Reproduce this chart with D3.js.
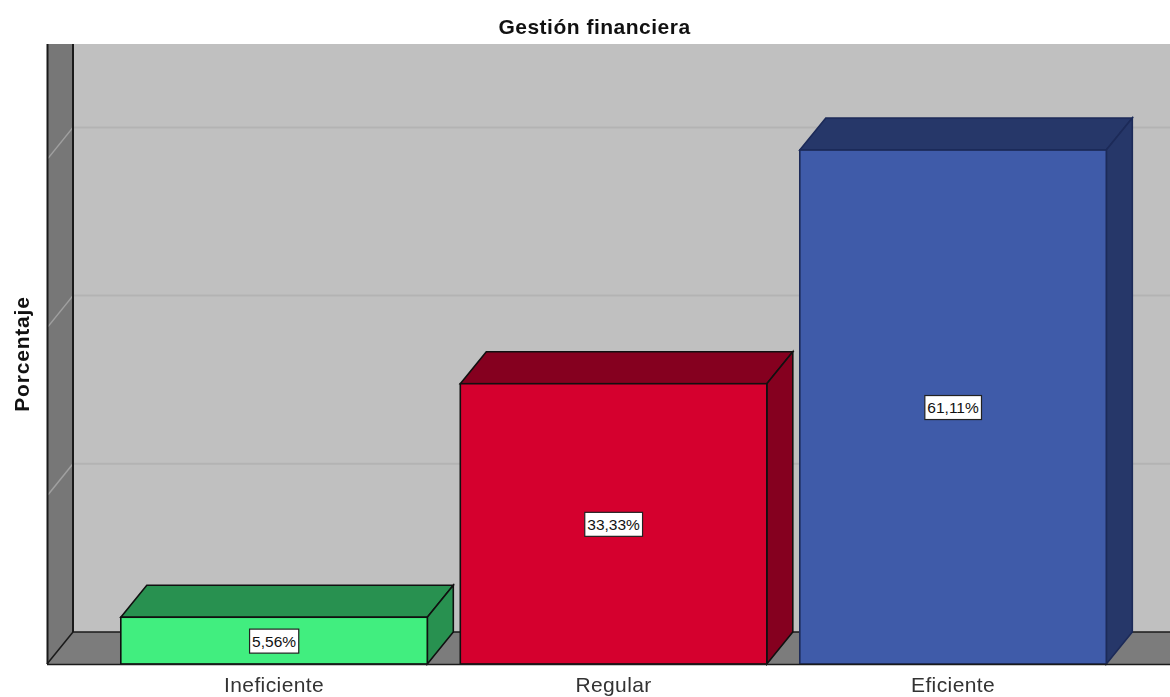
<!DOCTYPE html>
<html>
<head>
<meta charset="utf-8">
<script src="https://cdn.jsdelivr.net/npm/d3@7/dist/d3.min.js"></script>
<style>
html,body{margin:0;padding:0;background:#fff;overflow:hidden}
text{font-family:"Liberation Sans",Arial,sans-serif}
svg{filter:blur(0.4px)}
</style>
</head>
<body>
<script>
const categories = ["Ineficiente", "Regular", "Eficiente"];
const values = [5.56, 33.33, 61.11];
const valueLabels = ["5,56%", "33,33%", "61,11%"];
const gridTicks = [20, 40, 60];
const frontColors = ["#41ee7f", "#d5002e", "#3f5ba9"];
const sideColors = ["#289150", "#85001f", "#263769"];
const edgeColors = ["#101010", "#101010", "#1c2a58"];

const W = 1170, H = 697;
const left = 47, baseY = 664, topY = 44, dx = 26, dy = 32;

const svg = d3.select("body").append("svg").attr("width", W).attr("height", H).style("display", "block");

const y = d3.scaleLinear().domain([0, 70]).range([baseY, baseY - 70 * 8.41]);
const x = d3.scaleBand().domain(categories).range([104.3, 1122.8]).paddingInner(0.0972).paddingOuter(0.0486);

const poly = pts => pts.map(p => p.join(",")).join(" ");

// back wall
svg.append("rect").attr("x", left + dx).attr("y", topY).attr("width", W - left - dx).attr("height", baseY - dy - topY).attr("fill", "#c0c0c0");
// left wall
svg.append("rect").attr("x", left).attr("y", topY).attr("width", dx).attr("height", baseY - topY).attr("fill", "#777777");
// floor
svg.append("polygon").attr("points", poly([[left, baseY], [left + dx, baseY - dy], [W, baseY - dy], [W, baseY]])).attr("fill", "#7c7c7c");

// gridlines on the back wall and the left wall
svg.append("g").selectAll("line").data(gridTicks).join("line")
  .attr("x1", left + dx).attr("x2", W)
  .attr("y1", d => y(d) - dy).attr("y2", d => y(d) - dy)
  .attr("stroke", "#b3b3b3").attr("stroke-width", 2);
svg.append("g").selectAll("line").data(gridTicks).join("line")
  .attr("x1", left + 1).attr("x2", left + dx)
  .attr("y1", d => y(d) - 1).attr("y2", d => y(d) - dy)
  .attr("stroke", "#a0a0a0").attr("stroke-width", 1.5);

// wall edges
const edge = "#1a1a1a";
svg.append("line").attr("x1", left + .5).attr("x2", left + .5).attr("y1", topY).attr("y2", baseY).attr("stroke", edge).attr("stroke-width", 2);
svg.append("line").attr("x1", left + dx).attr("x2", left + dx).attr("y1", topY).attr("y2", baseY - dy).attr("stroke", edge).attr("stroke-width", 2);
svg.append("line").attr("x1", left + dx).attr("x2", W).attr("y1", baseY - dy).attr("y2", baseY - dy).attr("stroke", edge).attr("stroke-width", 1.5);
svg.append("line").attr("x1", left).attr("x2", left + dx).attr("y1", baseY).attr("y2", baseY - dy).attr("stroke", edge).attr("stroke-width", 1.5);

// bars
const bars = svg.append("g").selectAll("g").data(categories).join("g");
bars.each(function (c, i) {
  const g = d3.select(this);
  const x0 = x(c), x1 = x0 + x.bandwidth(), t = y(values[i]), b = y(0);
  const common = s => s.attr("stroke", edgeColors[i]).attr("stroke-width", 1.6).attr("stroke-linejoin", "miter");
  g.append("polygon").attr("points", poly([[x0, t], [x0 + dx, t - dy], [x1 + dx, t - dy], [x1, t]])).attr("fill", sideColors[i]).call(common);
  g.append("polygon").attr("points", poly([[x1, t], [x1 + dx, t - dy], [x1 + dx, b - dy], [x1, b]])).attr("fill", sideColors[i]).call(common);
  g.append("rect").attr("x", x0).attr("y", t).attr("width", x.bandwidth()).attr("height", b - t).attr("fill", frontColors[i]).call(common);
});

// baseline (over the bars)
svg.append("line").attr("x1", left).attr("x2", W).attr("y1", baseY + .5).attr("y2", baseY + .5).attr("stroke", edge).attr("stroke-width", 1.5);

// value labels
const labels = svg.append("g").selectAll("g").data(categories).join("g")
  .attr("transform", (c, i) => `translate(${x(c) + x.bandwidth() / 2},${(y(values[i]) + y(0)) / 2 + 0.5})`);
labels.append("rect").attr("fill", "#fff").attr("stroke", "#222").attr("stroke-width", 1.2);
labels.append("text").text((c, i) => valueLabels[i])
  .attr("text-anchor", "middle").attr("dy", "0.36em").attr("font-size", 15.5).attr("fill", "#111");
labels.each(function () {
  const b = d3.select(this).select("text").node().getBBox();
  d3.select(this).select("rect")
    .attr("x", b.x - 2.5).attr("width", b.width + 5)
    .attr("y", -12).attr("height", 24);
});

// category axis
const axis = svg.append("g").attr("transform", `translate(0,${baseY})`)
  .call(d3.axisBottom(x).tickSize(0).tickPadding(13));
axis.select(".domain").remove();
axis.selectAll("text").attr("font-size", 21).attr("letter-spacing", 0.4)
  .attr("font-family", '"Liberation Sans",Arial,sans-serif').attr("fill", "#333");

// titles
svg.append("text").attr("x", 594.5).attr("y", 34).attr("text-anchor", "middle")
  .attr("font-size", 21).attr("letter-spacing", 0.5).attr("font-weight", "bold").attr("fill", "#111").text("Gestión financiera");
svg.append("text").attr("transform", "translate(29,354) rotate(-90)").attr("text-anchor", "middle")
  .attr("font-size", 21).attr("letter-spacing", 0.8).attr("font-weight", "bold").attr("fill", "#111").text("Porcentaje");
</script>
</body>
</html>
